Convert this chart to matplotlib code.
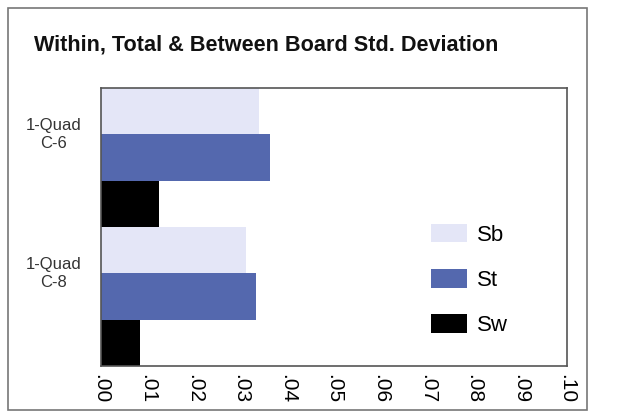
import matplotlib.pyplot as plt
from matplotlib.patches import Rectangle
import numpy as np

plt.rcParams['font.family'] = ['Liberation Sans', 'DejaVu Sans']

categories = ['1-Quad\nC-6', '1-Quad\nC-8']
sb = [0.0338, 0.0312]
st = [0.0362, 0.0332]
sw = [0.0124, 0.0084]
xticks = [0.00, 0.01, 0.02, 0.03, 0.04, 0.05, 0.06, 0.07, 0.08, 0.09, 0.10]

fig = plt.figure(figsize=(6.26, 4.12), dpi=100)
W, H = 626, 412
ax = fig.add_axes([101 / W, 1 - 366 / H, 466 / W, 278 / H])

# outer frame
fig.patches.append(Rectangle((8 / W, 2 / H), 579 / W, 1 - 10 / H, transform=fig.transFigure,
                             fill=False, edgecolor='#777777', linewidth=1.2))

y = np.arange(len(categories))
h = 1 / 3
ax.barh(y - h, sb, h, align='center', color='#e4e6f7', label='Sb')
ax.barh(y, st, h, align='center', color='#5468ae', label='St')
ax.barh(y + h, sw, h, align='center', color='#000000', label='Sw')

ax.set_xlim(0, 0.10)
ax.set_ylim(1.5, -0.5)
ax.set_xticks(xticks)
ax.set_xticklabels(['.%02d' % round(v * 100) for v in xticks], rotation=-90, fontsize=15)
# labels sit a little above the group centre
ax.set_yticks(y - h / 2 - 0.022)
ax.set_yticklabels(categories, fontsize=12, color='#333333', ha='center', linespacing=1.3)
ax.tick_params(axis='y', length=0, pad=34)
ax.tick_params(axis='x', length=0, pad=6)
for s in ax.spines.values():
    s.set_color('#555555')
    s.set_linewidth(1.2)

fig.text(266 / W, 1 - 45 / H, 'Within, Total & Between Board Std. Deviation',
         ha='center', va='center', fontsize=15.6, fontweight='bold', color='#111111')

ax.legend(loc='lower left', bbox_to_anchor=(0.69, 0.075), frameon=False, fontsize=16,
          handlelength=1.58, handleheight=0.9, labelspacing=1.05, handletextpad=0.45,
          borderaxespad=0)

fig.savefig('out.png', dpi=100)
